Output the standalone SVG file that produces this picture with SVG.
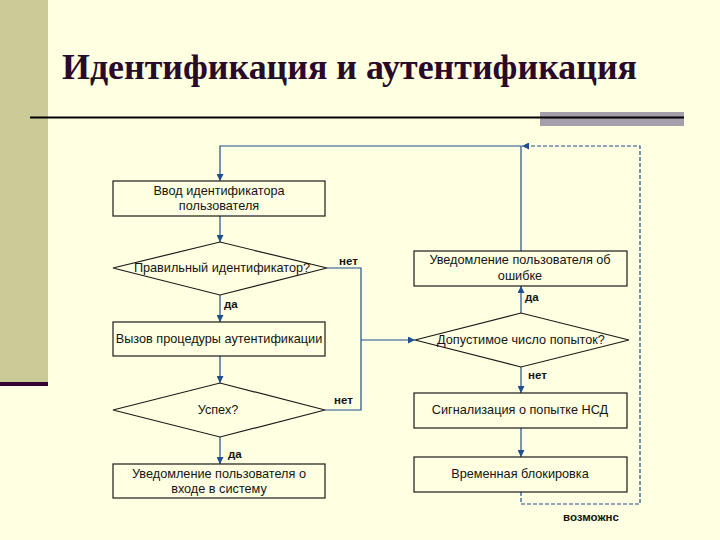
<svg xmlns="http://www.w3.org/2000/svg" width="720" height="540" viewBox="0 0 720 540">
<defs>
<marker id="arr" viewBox="0 0 10 10" refX="10" refY="5" markerWidth="8" markerHeight="7" markerUnits="userSpaceOnUse" orient="auto">
<path d="M0,0 L10,5 L0,10 z" fill="#1F4F8F"/>
</marker>
<style>
.box{fill:#FFFFE1;stroke:#1a1a1a;stroke-width:1.2}
.t{font-family:"Liberation Sans",Arial,sans-serif;font-size:12.7px;fill:#141414;text-anchor:middle}
.lbl{font-family:"Liberation Sans",Arial,sans-serif;font-size:11.5px;font-weight:bold;fill:#141414}
.c{fill:none;stroke:#1F4F8F;stroke-width:1.2}
.d{fill:none;stroke:#1F4F8F;stroke-width:1.2;stroke-dasharray:4 2}
</style>
</defs>
<rect x="0" y="0" width="720" height="540" fill="#FFFFE1"/>
<rect x="0" y="0" width="48" height="382" fill="#CBCB98"/>
<rect x="0" y="382" width="48" height="4" fill="#330033"/>
<text x="62" y="79" font-family="'Liberation Serif','Times New Roman',serif" font-size="36" font-weight="bold" fill="#2A0A2A" textLength="575" lengthAdjust="spacingAndGlyphs">Идентификация и аутентификация</text>
<rect x="540" y="112" width="144" height="14" fill="#A79EAB"/>
<line x1="30" y1="117.5" x2="684" y2="117.5" stroke="#000" stroke-width="2"/>

<g id="connectors">
<path class="c" d="M521,251 V146 H220 V181" marker-end="url(#arr)"/>
<path class="c" d="M220,216 V242" marker-end="url(#arr)"/>
<path class="c" d="M220,295 V322" marker-end="url(#arr)"/>
<path class="c" d="M220,356 V383" marker-end="url(#arr)"/>
<path class="c" d="M220,437 V464" marker-end="url(#arr)"/>
<path class="c" d="M327,268 H361 V410 H325"/>
<path class="c" d="M361,340 H415" marker-end="url(#arr)"/>
<path class="c" d="M521,313 V286" marker-end="url(#arr)"/>
<path class="c" d="M521,367 V393" marker-end="url(#arr)"/>
<path class="c" d="M521,428 V457" marker-end="url(#arr)"/>
<path class="d" d="M521,492 V504 H640 V146 H522" marker-end="url(#arr)"/>
<text class="lbl" x="339" y="265">нет</text>
<text class="lbl" x="334" y="404">нет</text>
<text class="lbl" x="224" y="308">да</text>
<text class="lbl" x="228" y="458">да</text>
<text class="lbl" x="525" y="301">да</text>
<text class="lbl" x="528" y="379">нет</text>
<text class="lbl" x="563" y="521">возможнс</text>
</g>

<g id="n1">
<rect class="box" x="113" y="181" width="212" height="35"/>
<text class="t" x="219" y="195">Ввод идентификатора</text>
<text class="t" x="219" y="210">пользователя</text>
</g>
<g id="n2">
<polygon class="box" points="113,268 220,242 327,268 220,295"/>
<text class="t" x="222" y="272">Правильный идентификатор?</text>
</g>
<g id="n3">
<rect class="box" x="113" y="322" width="212" height="34"/>
<text class="t" x="219" y="343">Вызов процедуры аутентификации</text>
</g>
<g id="n4">
<polygon class="box" points="113,410 220,383 325,410 220,437"/>
<text class="t" x="218" y="414">Успех?</text>
</g>
<g id="n5">
<rect class="box" x="113" y="464" width="212" height="34"/>
<text class="t" x="219" y="478">Уведомление пользователя о</text>
<text class="t" x="219" y="493">входе в систему</text>
</g>
<g id="n6">
<rect class="box" x="414" y="251" width="213" height="35"/>
<text class="t" x="520" y="264">Уведомление пользователя об</text>
<text class="t" x="520" y="280">ошибке</text>
</g>
<g id="n7">
<polygon class="box" points="415,340 521,313 629,340 521,367"/>
<text class="t" x="521" y="344">Допустимое число попыток?</text>
</g>
<g id="n8">
<rect class="box" x="414" y="393" width="213" height="35"/>
<text class="t" x="520" y="414">Сигнализация о попытке НСД</text>
</g>
<g id="n9">
<rect class="box" x="414" y="457" width="213" height="35"/>
<text class="t" x="520" y="478">Временная блокировка</text>
</g>
</svg>
